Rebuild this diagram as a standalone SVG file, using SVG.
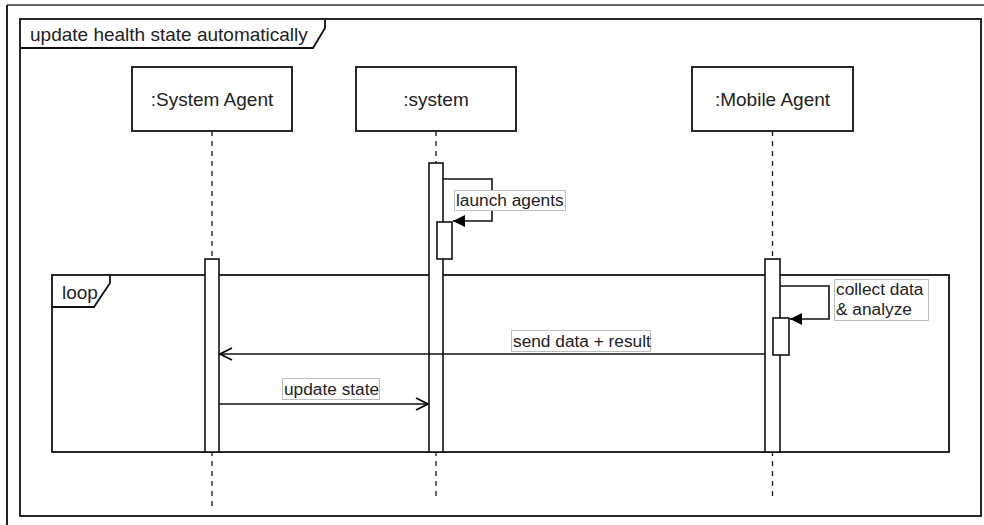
<svg xmlns="http://www.w3.org/2000/svg" width="984" height="525" viewBox="0 0 984 525">
<defs>
<marker id="filled" viewBox="0 0 12 12" refX="12" refY="6" markerWidth="12" markerHeight="12" markerUnits="userSpaceOnUse" orient="auto"><path d="M0,0 L12,6 L0,12 Z" fill="#000"/></marker>
<marker id="open" viewBox="0 0 14 14" refX="13" refY="7" markerWidth="14" markerHeight="14" markerUnits="userSpaceOnUse" orient="auto"><path d="M1,1 L13,7 L1,13" fill="none" stroke="#000" stroke-width="1.6"/></marker>
</defs>
<style>
.txt{font-family:"Liberation Sans",Arial,sans-serif;fill:#222}
.big{font-size:19px}
.small{font-size:17.3px}
.box{fill:#fff;stroke:#111;stroke-width:1.8}
.act{fill:#fff;stroke:#111;stroke-width:1.6}
.life{stroke:#222;stroke-width:1.4;stroke-dasharray:5 5;fill:none}
.msg{stroke:#111;stroke-width:1.6;fill:none}
.lbl{fill:#fff;stroke:#bdbdbd;stroke-width:1}
.frame{fill:none;stroke:#111;stroke-width:1.8}
</style>
<rect width="984" height="525" fill="#fff"/>
<line x1="7" y1="5" x2="984" y2="5" stroke="#666" stroke-width="2"/>
<line x1="7" y1="5" x2="7" y2="525" stroke="#222" stroke-width="2"/>
<g id="frame">
<rect class="frame" x="20" y="19" width="961" height="497"/>
<path class="frame" d="M20,48 L313,48 L325,28 L325,19"/>
<text class="txt big" x="30" y="41">update health state automatically</text>
</g>
<g id="lifelines">
<line class="life" x1="212" y1="131" x2="212" y2="511"/>
<line class="life" x1="436" y1="131" x2="436" y2="500"/>
<line class="life" x1="772.5" y1="131" x2="772.5" y2="500"/>
</g>
<g id="loop">
<rect class="frame" x="52" y="275" width="897" height="177"/>
<path class="frame" d="M52,307 L94,307 L110,283 L110,275"/>
<text class="txt big" x="62" y="299">loop</text>
</g>
<g id="systemAgent">
<rect class="box" x="132" y="67" width="160" height="64"/>
<text class="txt big" x="212" y="106" text-anchor="middle">:System Agent</text>
<rect class="act" x="205" y="259" width="14" height="193"/>
</g>
<g id="system">
<rect class="box" x="356" y="67" width="160" height="64"/>
<text class="txt big" x="436" y="106" text-anchor="middle">:system</text>
<rect class="act" x="429" y="163" width="14" height="289"/>
<rect class="act" x="437" y="222" width="15" height="37"/>
</g>
<g id="mobileAgent">
<rect class="box" x="692" y="67" width="161" height="64"/>
<text class="txt big" x="772.5" y="106" text-anchor="middle">:Mobile Agent</text>
<rect class="act" x="765" y="259" width="15" height="193"/>
<rect class="act" x="773" y="318" width="16" height="37"/>
</g>
<g id="connectors">
<path class="msg" d="M443,179 L492,179 L492,221 L453,221" marker-end="url(#filled)"/>
<rect class="lbl" x="454.5" y="190.5" width="111" height="20"/>
<text class="txt small" x="456" y="206">launch agents</text>
<path class="msg" d="M780,286 L829,286 L829,319 L790,319" marker-end="url(#filled)"/>
<rect class="lbl" x="834.5" y="279.5" width="94" height="41"/>
<text class="txt small" x="836" y="295">collect data</text>
<text class="txt small" x="836" y="315">&amp; analyze</text>
<line class="msg" x1="765" y1="354" x2="220" y2="354" marker-end="url(#open)"/>
<rect class="lbl" x="511.5" y="330.5" width="139" height="21"/>
<text class="txt small" x="513" y="347">send data + result</text>
<line class="msg" x1="219" y1="404" x2="428" y2="404" marker-end="url(#open)"/>
<rect class="lbl" x="282.5" y="378.5" width="97" height="21"/>
<text class="txt small" x="284" y="395">update state</text>
</g>
</svg>
